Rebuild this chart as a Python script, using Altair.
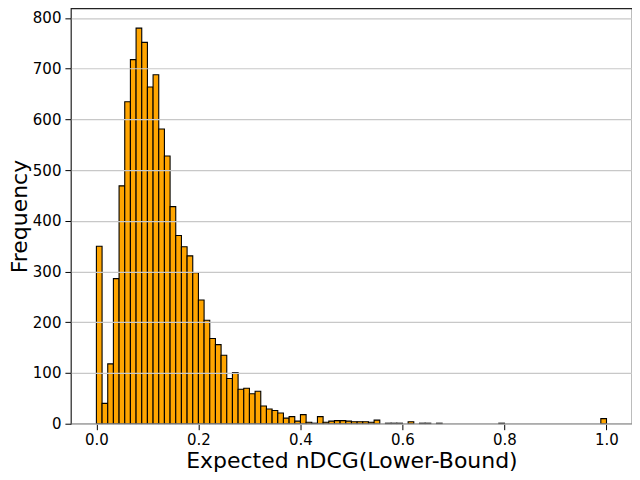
import altair as alt
import pandas as pd

# Histogram counts per bin (90 equal bins over [0, 1])
counts = [350, 40, 118, 286, 469, 635, 718, 780, 752, 664,
          688, 581, 528, 428, 371, 349, 331, 298, 244, 204,
          168, 156, 135, 89, 101, 68, 70, 59, 64, 35,
          29, 26, 21, 11, 14, 5, 18, 3, 1, 14,
          3, 5, 6, 6, 5, 4, 4, 4, 3, 7,
          0, 1, 1, 1, 0, 4, 0, 1, 1, 0,
          1, 0, 0, 0, 0, 0, 0, 0, 0, 0,
          0, 1, 0, 0, 0, 0, 0, 0, 0, 0,
          0, 0, 0, 0, 0, 0, 0, 0, 0, 10]
n_bins = 90
x_ticks = [0.0, 0.2, 0.4, 0.6, 0.8, 1.0]
y_ticks = [0, 100, 200, 300, 400, 500, 600, 700, 800]

df = pd.DataFrame({
    "start": [i / n_bins for i in range(n_bins)],
    "end": [(i + 1) / n_bins for i in range(n_bins)],
    "count": counts,
})
df = df[df["count"] > 0]

FONT = "DejaVu Sans"

chart = alt.Chart(df).mark_bar(
    color="#FFA500", stroke="black", strokeWidth=1.1
).encode(
    x=alt.X("start:Q",
            scale=alt.Scale(domain=[-0.05, 1.05], nice=False, zero=False),
            axis=alt.Axis(values=x_ticks, format=".1f", grid=False,
                          title="Expected nDCG(Lower-Bound)",
                          titleFontSize=22, titleFontWeight="normal",
                          titlePadding=3, labelFontSize=15, labelPadding=3,
                          tickSize=6, domain=False, tickColor="black",
                          labelColor="black", titleColor="black",
                          labelFont=FONT, titleFont=FONT)),
    x2="end:Q",
    y=alt.Y("count:Q",
            scale=alt.Scale(domain=[0, 819], nice=False),
            axis=alt.Axis(values=y_ticks, grid=True, gridColor="#c8c8c8",
                          gridWidth=1.2, title="Frequency",
                          titleFontSize=22, titleFontWeight="normal",
                          titlePadding=1, labelFontSize=15, labelPadding=4,
                          tickSize=6, domain=False, tickColor="black",
                          labelColor="black", titleColor="black",
                          labelFont=FONT, titleFont=FONT, zindex=1)),
    y2=alt.datum(0),
).properties(
    width=562, height=416, padding=0
).configure_view(
    stroke="#222222", strokeWidth=1.2
)

chart.save("out.html", embed_options={"renderer": "svg", "actions": False})
